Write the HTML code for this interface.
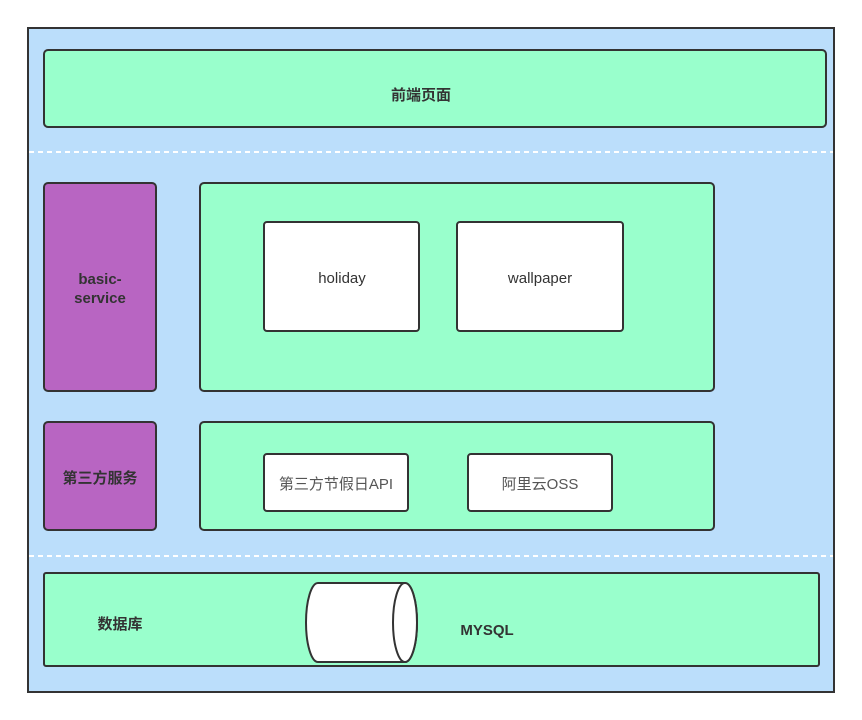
<!DOCTYPE html>
<html><head><meta charset="utf-8"><style>
html,body{margin:0;padding:0;background:#fff;}
svg{display:block}
text{font-family:"Liberation Sans","Noto Sans CJK SC",sans-serif;}
</style></head><body>
<svg width="862" height="720" viewBox="0 0 862 720" xmlns="http://www.w3.org/2000/svg">
<rect x="28" y="28" width="806" height="664" fill="#bbdefb" stroke="#333" stroke-width="2"/>
<line x1="29" y1="152" x2="833" y2="152" stroke="#fff" stroke-width="2" stroke-dasharray="5,4"/>
<line x1="29" y1="556" x2="833" y2="556" stroke="#fff" stroke-width="2" stroke-dasharray="5,4"/>
<g stroke="#333" stroke-width="2">
<rect x="44" y="50" width="782" height="77" rx="4" fill="#99ffcc"/>
<rect x="44" y="183" width="112" height="208" rx="4" fill="#b865c2"/>
<rect x="200" y="183" width="514" height="208" rx="4" fill="#99ffcc"/>
<rect x="264" y="222" width="155" height="109" rx="3" fill="#fff"/>
<rect x="457" y="222" width="166" height="109" rx="3" fill="#fff"/>
<rect x="44" y="422" width="112" height="108" rx="4" fill="#b865c2"/>
<rect x="200" y="422" width="514" height="108" rx="4" fill="#99ffcc"/>
<rect x="264" y="454" width="144" height="57" rx="3" fill="#fff"/>
<rect x="468" y="454" width="144" height="57" rx="3" fill="#fff"/>
<rect x="44" y="573" width="775" height="93" rx="2" fill="#99ffcc"/>
<path d="M318 583 H405 A12 39.5 0 0 1 405 662 H318 A12 39.5 0 0 1 318 583 Z" fill="#fff"/>
<ellipse cx="405" cy="622.5" rx="12" ry="39.5" fill="#fff"/>
</g>
<g fill="#333" font-size="15" text-anchor="middle">
<text x="421" y="100" font-weight="bold">前端页面</text>
<text x="100" y="284" font-weight="bold">basic-</text>
<text x="100" y="303" font-weight="bold">service</text>
<text x="342" y="283">holiday</text>
<text x="540" y="283">wallpaper</text>
<text x="100" y="483" font-weight="bold">第三方服务</text>
<text x="336" y="489" fill="#555">第三方节假日API</text>
<text x="540" y="489" fill="#555">阿里云OSS</text>
<text x="120" y="629" font-weight="bold">数据库</text>
<text x="487" y="635" font-weight="bold">MYSQL</text>
</g>
</svg>
</body></html>
